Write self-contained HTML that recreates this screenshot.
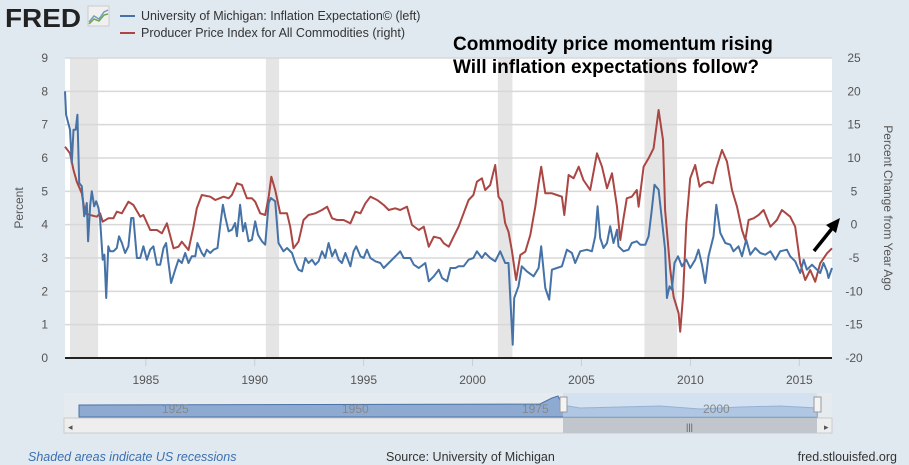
<!DOCTYPE html>
<html><head><meta charset="utf-8"><style>
body{margin:0;background:#e1e9f0;width:909px;height:465px;overflow:hidden;font-family:"Liberation Sans",sans-serif}
svg{display:block}
</style></head><body>
<svg id="c" width="909" height="465" xmlns="http://www.w3.org/2000/svg">
<rect x="0" y="0" width="909" height="465" fill="#e1e9f0"/>
<g>
<text x="5" y="27" font-size="26" font-weight="bold" fill="#222" font-family="Liberation Sans,sans-serif" textLength="76" lengthAdjust="spacingAndGlyphs">FRED</text>
<rect x="88" y="6" width="21" height="20" fill="#f0f0f0" stroke="#ccc"/>
<polyline points="89,22 94,16 99,19 104,12 108,10" fill="none" stroke="#7a9bbd" stroke-width="1.5"/>
<polyline points="89,24 94,19 99,21 104,15 108,14" fill="none" stroke="#6aa84f" stroke-width="1.5"/>
</g>
<g>
<line x1="120" y1="16" x2="135" y2="16" stroke="#4572a7" stroke-width="2"/>
<text x="141" y="20" font-size="12.5" fill="#333">University of Michigan: Inflation Expectation© (left)</text>
<line x1="120" y1="33" x2="135" y2="33" stroke="#aa4643" stroke-width="2"/>
<text x="141" y="37" font-size="12.5" fill="#333">Producer Price Index for All Commodities (right)</text>
</g>
<rect x="65" y="58" width="767" height="300" fill="#fff"/>
<g id="rec"></g><g id="grid"></g><g id="ser"></g><g id="axes"></g>
<g>
<text x="453" y="50" font-size="19" font-weight="bold" fill="#000">Commodity price momentum rising</text>
<text x="453" y="73" font-size="19" font-weight="bold" fill="#000">Will inflation expectations follow?</text>
<line x1="814" y1="251" x2="834" y2="226" stroke="#000" stroke-width="3.5"/>
<polygon points="840,218 826,225 836,233" fill="#000"/>
</g>
<g>
<rect x="64" y="393" width="768" height="24" fill="#e6ebf0"/>
<path d="M79,405 L540,404 L552,398 L558,396 L562,405 L580,408 L620,407 L660,406 L700,409 L740,407 L780,406 L817,408 L817,417 L79,417 Z" fill="#8eaad0" stroke="#4a73a8" stroke-width="1"/>
<rect x="563" y="393" width="254" height="24" fill="#c6dbf2" opacity="0.6"/>
<text x="162" y="413" font-size="12" fill="#888">1925</text><text x="342" y="413" font-size="12" fill="#888">1950</text>
<text x="522" y="413" font-size="12" fill="#888">1975</text><text x="703" y="413" font-size="12" fill="#888">2000</text>
<rect x="560" y="397" width="7" height="15" fill="#f4f4f4" stroke="#999"/>
<rect x="814" y="397" width="7" height="15" fill="#f4f4f4" stroke="#999"/>
<rect x="64" y="418" width="768" height="15" fill="#eee" stroke="#ccc"/>
<rect x="563" y="418" width="254" height="15" fill="#c0c6cc"/>
<text x="686" y="430" font-size="9" fill="#555">|||</text>
<text x="68" y="430" font-size="9" fill="#555">◂</text>
<text x="824" y="430" font-size="9" fill="#555">▸</text>
</g>
<text x="28" y="461" font-size="12.5" font-style="italic" fill="#3b6fb0">Shaded areas indicate US recessions</text>
<text x="386" y="461" font-size="12.5" fill="#333">Source: University of Michigan</text>
<text x="897" y="461" font-size="12.5" fill="#333" text-anchor="end">fred.stlouisfed.org</text>
</svg>
<script>
const recStart=[1981.52,1990.51,2001.16,2007.89];
const recEnd=[1982.81,1991.12,2001.83,2009.39];
const leftTicks=[0,1,2,3,4,5,6,7,8,9];
const rightTicks=[-20,-15,-10,-5,0,5,10,15,20,25];
const yearTicks=[1985,1990,1995,2000,2005,2010,2015];
const miDates=[1981.29,1981.34,1981.52,1981.6,1981.68,1981.78,1981.86,1981.94,1982.06,1982.17,1982.29,1982.35,1982.44,1982.52,1982.63,1982.72,1982.83,1982.9,1983.02,1983.1,1983.18,1983.28,1983.36,1983.51,1983.67,1983.77,1983.9,1984.05,1984.2,1984.33,1984.43,1984.59,1984.74,1984.89,1985.05,1985.2,1985.35,1985.51,1985.66,1985.81,1985.93,1986.04,1986.16,1986.35,1986.5,1986.65,1986.81,1986.96,1987.11,1987.27,1987.37,1987.57,1987.68,1987.8,1987.96,1988.11,1988.29,1988.41,1988.54,1988.64,1988.8,1988.95,1989.1,1989.18,1989.33,1989.46,1989.56,1989.72,1989.87,1990.02,1990.15,1990.33,1990.48,1990.64,1990.74,1990.94,1991.09,1991.32,1991.48,1991.71,1991.86,1992.01,1992.17,1992.32,1992.47,1992.63,1992.78,1992.93,1993.09,1993.24,1993.39,1993.55,1993.7,1993.85,1994,1994.16,1994.39,1994.54,1994.66,1994.85,1995,1995.15,1995.31,1995.54,1995.77,1995.92,1996.15,1996.38,1996.53,1996.68,1996.84,1997.14,1997.3,1997.53,1997.83,1997.99,1998.22,1998.45,1998.6,1998.83,1998.98,1999.21,1999.36,1999.59,1999.82,2000.04,2000.2,2000.43,2000.58,2000.81,2001.04,2001.27,2001.5,2001.65,2001.76,2001.84,2001.91,2002.11,2002.26,2002.49,2002.8,2003.03,2003.15,2003.34,2003.52,2003.64,2003.87,2004.1,2004.33,2004.56,2004.71,2004.94,2005.25,2005.48,2005.63,2005.74,2005.86,2006.01,2006.17,2006.32,2006.47,2006.63,2006.7,2006.93,2007.16,2007.31,2007.54,2007.7,2007.93,2008.08,2008.23,2008.35,2008.54,2008.69,2008.84,2008.92,2009.04,2009.15,2009.27,2009.43,2009.61,2009.81,2009.99,2010.22,2010.37,2010.53,2010.68,2010.83,2011.06,2011.19,2011.37,2011.6,2011.83,2011.98,2012.21,2012.37,2012.56,2012.75,2012.98,2013.21,2013.44,2013.67,2013.9,2014.12,2014.43,2014.58,2014.81,2015.04,2015.2,2015.35,2015.58,2015.81,2015.96,2016.11,2016.27,2016.34,2016.5];
const miValues=[8,7.3,6.85,5.85,6.85,6.85,7.3,5.25,5.15,4.25,4.65,3.5,4.55,5,4.55,4.7,4.5,4.15,2.95,3.1,1.8,3.35,3.2,3.2,3.3,3.65,3.45,3.15,3.35,4.2,4.2,3,3,3.35,2.95,3.25,3.35,2.8,2.8,3.3,3.45,2.85,2.25,2.65,2.95,2.85,3.15,2.85,3.05,3.05,3.45,3.15,3.05,3.25,3.15,3.25,3.3,3.95,4.6,4.25,3.8,3.85,4.05,3.65,4.6,3.8,4.05,3.5,3.55,4.1,3.7,3.5,3.4,4.65,4.8,4.7,3.45,3.2,3.3,3.15,2.85,2.65,2.6,3,2.85,2.95,2.8,2.9,3.2,3,3.45,3.05,3.25,2.95,2.85,3.15,2.75,3.2,3.35,3.05,3,3.25,3,2.9,2.85,2.7,2.85,3,3.1,3.2,3,3,2.8,2.7,2.85,2.3,2.45,2.65,2.4,2.3,2.7,2.7,2.75,2.75,2.95,3,3.2,3,3.15,3,2.9,3.2,2.85,2.85,1.45,0.4,1.8,2.15,2.75,2.6,2.45,2.7,3.35,2.1,1.75,2.65,2.7,2.75,3.25,3.15,2.85,3.2,3.25,3.2,3.65,4.55,3.6,3.3,3.45,3.95,3.45,3.85,3.35,3.2,3.25,3.45,3.5,3.4,3.4,3.65,4.45,5.2,5.05,4.15,3.25,1.8,2.15,2.05,2.85,3.05,2.75,2.95,2.7,2.95,3.25,2.8,2.25,3.05,3.65,4.6,3.75,3.45,3.4,3.2,3.35,3.05,3.55,3.1,3.3,3.15,3.1,3.2,2.95,3.2,3.25,3.05,2.9,2.55,2.95,2.65,2.8,2.65,2.55,2.85,2.6,2.4,2.7];
const ppiDates=[1981.29,1981.52,1981.68,1981.83,1982.06,1982.21,1982.44,1982.75,1982.9,1983.02,1983.28,1983.51,1983.67,1983.9,1984.2,1984.43,1984.74,1984.89,1985.2,1985.51,1985.74,1985.97,1986.27,1986.5,1986.65,1986.96,1987.19,1987.34,1987.57,1987.96,1988.19,1988.57,1988.8,1988.95,1989.18,1989.41,1989.64,1989.87,1990.02,1990.25,1990.48,1990.64,1990.76,1990.94,1991.17,1991.48,1991.63,1991.78,1992.01,1992.24,1992.47,1992.78,1993.09,1993.32,1993.55,1993.78,1994.08,1994.39,1994.62,1994.85,1995.08,1995.31,1995.62,1995.92,1996.15,1996.45,1996.68,1996.99,1997.22,1997.53,1997.76,1997.99,1998.22,1998.52,1998.68,1998.91,1999.13,1999.36,1999.59,1999.82,2000.04,2000.2,2000.43,2000.58,2000.81,2001.04,2001.19,2001.35,2001.5,2001.65,2001.8,2002,2002.19,2002.42,2002.65,2002.88,2003.03,2003.15,2003.34,2003.64,2003.87,2004.1,2004.21,2004.41,2004.64,2004.87,2005.09,2005.4,2005.71,2005.94,2006.17,2006.4,2006.63,2006.78,2006.93,2007.08,2007.31,2007.54,2007.62,2007.85,2008.08,2008.31,2008.54,2008.74,2008.84,2009.07,2009.23,2009.46,2009.53,2009.66,2009.81,2009.99,2010.22,2010.42,2010.6,2010.83,2011.03,2011.19,2011.45,2011.68,2011.91,2012.14,2012.37,2012.52,2012.67,2012.9,2013.13,2013.36,2013.67,2013.97,2014.2,2014.58,2014.81,2015.04,2015.27,2015.5,2015.73,2015.96,2016.27,2016.5];
const ppiValues=[11.7,10.7,8.2,6.45,4.7,1.7,1.45,1.2,1.7,0.45,0.95,0.95,1.95,1.7,3.45,2.95,1.2,1.45,-0.8,-0.8,-1.3,0.2,-3.55,-3.3,-2.55,-3.8,-0.3,2.45,4.45,4.2,3.7,4.2,3.95,4.45,6.2,5.95,3.95,3.95,3.45,1.7,1.45,4.2,7.2,5.2,1.7,1.7,-0.3,-3.55,-2.55,0.7,1.45,1.7,2.2,2.7,0.95,0.7,0.7,0.2,1.95,1.7,3.2,4.2,3.7,2.95,2.2,2.45,2.2,2.7,-0.05,-0.8,-0.3,-3.3,-1.8,-2.05,-2.8,-3.3,-1.8,-0.3,1.7,3.7,4.45,6.45,6.95,5.2,5.95,8.95,4.2,3.45,0.2,-1.05,-3.8,-8.3,-4.55,-4.05,-1.55,2.7,6.2,8.7,4.7,4.7,4.45,4.2,1.45,7.45,6.95,8.7,6.7,5.2,10.7,8.7,5.45,7.7,2.7,-2.3,0.95,3.95,4.2,5.2,2.7,8.7,9.95,11.45,17.2,12.7,2.2,-6.55,-10.8,-13.3,-16.05,-10.8,0.2,6.95,8.95,5.7,6.2,6.45,6.2,8.45,11.2,9.45,5.2,2.7,-0.8,-2.3,0.7,0.95,1.45,2.2,-0.3,0.7,2.2,1.2,-0.3,-5.8,-8.3,-6.8,-8.55,-5.8,-4.3,-3.55];

const NS='http://www.w3.org/2000/svg';
const X0=65,X1=832,T0=1981.29,T1=2016.5,Y0=358,Y1=58;
function xs(t){return X0+(t-T0)/(T1-T0)*(X1-X0);}
function yl(v){return Y0-(v-0)/(9-0)*(Y0-Y1);}
function yr(v){return Y0-(v+20)/45*(Y0-Y1);}
function mk(tag,attrs,parent){const e=document.createElementNS(NS,tag);for(const k in attrs)e.setAttribute(k,attrs[k]);parent.appendChild(e);return e;}
const rec=document.getElementById('rec'),grid=document.getElementById('grid'),ser=document.getElementById('ser'),axes=document.getElementById('axes');
recStart.forEach((s,i)=>{const r=mk('rect',{x:xs(s),y:Y1,width:xs(recEnd[i])-xs(s),height:Y0-Y1,fill:'#e5e5e5'},rec);

});
leftTicks.forEach(v=>{const y=yl(v);
if(v>0){const g=mk('line',{x1:X0,x2:X1,y1:y,y2:y,stroke:'#d8d8d8','stroke-width':1.5},grid);

}
const t=mk('text',{x:48,y:y+4,'font-size':12,fill:'#555','text-anchor':'end'},axes);t.textContent=v;

});
rightTicks.forEach(v=>{const y=yr(v);const t=mk('text',{x:854,y:y+4,'font-size':12,fill:'#555','text-anchor':'middle'},axes);t.textContent=v;

});
yearTicks.forEach(v=>{const x=xs(v);mk('line',{x1:x,x2:x,y1:Y0,y2:Y0+8,stroke:'#c0d0e0'},axes);
const t=mk('text',{x:x,y:384,'font-size':12,fill:'#555','text-anchor':'middle'},axes);t.textContent=v;

});
const ax=mk('line',{x1:X0,x2:X1,y1:Y0,y2:Y0,stroke:'#222','stroke-width':2},axes);


const lt=mk('text',{x:0,y:0,'font-size':12,fill:'#555','text-anchor':'middle',transform:'translate(23,208) rotate(-90)'},axes);lt.textContent='Percent';


const rt=mk('text',{x:0,y:0,'font-size':12,fill:'#555','text-anchor':'middle',transform:'translate(884,208) rotate(90)'},axes);rt.textContent='Percent Change from Year Ago';


const p1=mk('polyline',{points:ppiDates.map((d,i)=>xs(d).toFixed(1)+','+yr(ppiValues[i]).toFixed(1)).join(' '),fill:'none',stroke:'#aa4643','stroke-width':2,'stroke-linejoin':'round'},ser);


const p2=mk('polyline',{points:miDates.map((d,i)=>xs(d).toFixed(1)+','+yl(miValues[i]).toFixed(1)).join(' '),fill:'none',stroke:'#4572a7','stroke-width':2,'stroke-linejoin':'round'},ser);


</script>
</body></html>
